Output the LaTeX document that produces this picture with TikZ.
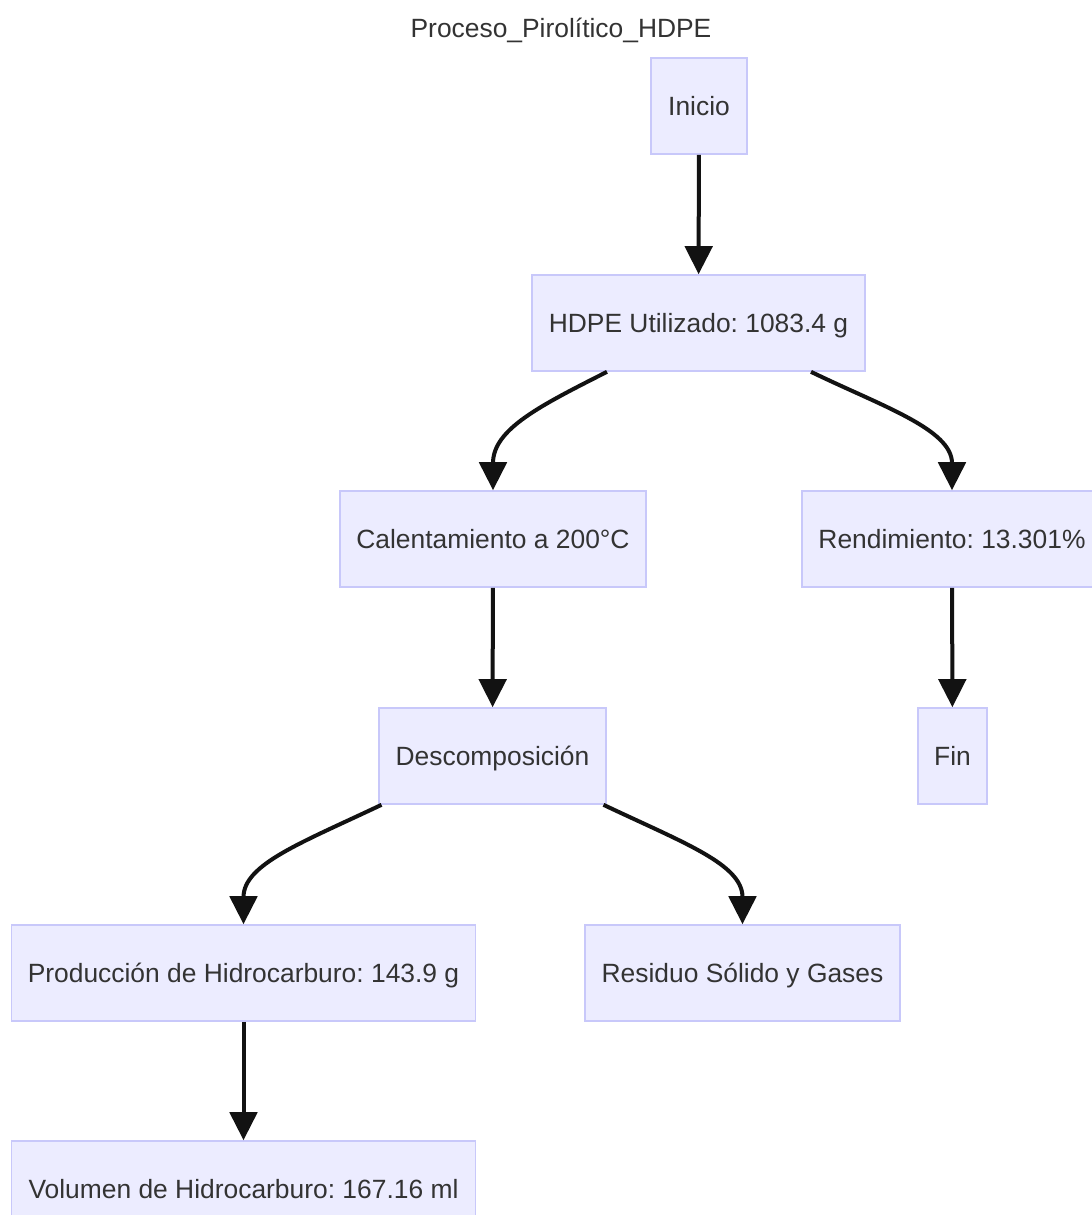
\documentclass[tikz,border=0pt]{standalone}
\usepackage{fontspec}
\setmainfont{Liberation Sans}
\usetikzlibrary{arrows.meta}
\usetikzlibrary{calc}
\usetikzlibrary{positioning}
\definecolor{boxfill}{HTML}{ECECFF}
\definecolor{boxline}{HTML}{C8C8FA}
\definecolor{boxtext}{HTML}{333333}
\newcommand{\px}{0.75pt}
\frenchspacing
\tikzset{
	box/.style={draw=boxline, fill=boxfill, line width=1.2pt, text=boxtext, inner sep=0pt, minimum height=96*\px, text height=14.2pt, text depth=0pt, font=\fontsize{19.8}{24}\selectfont},
	flow/.style={line width=3pt, draw=black!93, -{Triangle[length=21pt,width=20.5pt]}}
}
\begin{document}
\begin{tikzpicture}[x=\px, y=-\px]
		\useasboundingbox (0,0) rectangle (1092,1215);
		\clip (0,0) rectangle (1092,1215);
		\fill[white] (0,0) rectangle (1092,1215);
		\node[text=boxtext, text height=14.2pt, text depth=0pt, font=\fontsize{19.8}{24}\selectfont] (title) at (561,28) {Proceso\_Pirolítico\_HDPE};
		\node[box, minimum width=96*\px] (inicio) at (699,106) {Inicio};
		\node[box, minimum width=333*\px] (hdpe) at (698.5,323) {HDPE Utilizado: 1083.4 g};
		\node[box, minimum width=306*\px] (calentamiento) at (493,539) {Calentamiento a 200°C};
		\node[box, minimum width=300*\px] (rendimiento) at (952,539) {Rendimiento: 13.301\%};
		\node[box, minimum width=227*\px] (descomposicion) at (492.5,756) {Descomposición};
		\node[box, minimum width=69*\px] (fin) at (952.5,756) {Fin};
		\node[box, minimum width=464*\px] (produccion) at (243.5,973) {Producción de Hidrocarburo: 143.9 g};
		\node[box, minimum width=315*\px] (residuo) at (742.5,973) {Residuo Sólido y Gases};
		\node[box, minimum width=464*\px] (volumen) at (243.5,1189) {Volumen de Hidrocarburo: 167.16 ml};
		\draw[flow] (inicio) -- (hdpe);
		\draw[flow] ($(hdpe.south)+(-91.5,0)$) .. controls +(-67,34) and +(0,-61) .. (calentamiento.north);
		\draw[flow] ($(hdpe.south)+(112.5,0)$) .. controls +(70,34) and +(0,-61) .. (rendimiento.north);
		\draw[flow] (calentamiento) -- (descomposicion);
		\draw[flow] (rendimiento) -- (fin);
		\draw[flow] ($(descomposicion.south)+(-111,0)$) .. controls +(-80,38) and +(0,-60) .. (produccion.north);
		\draw[flow] ($(descomposicion.south)+(111,0)$) .. controls +(80,38) and +(0,-60) .. (residuo.north);
		\draw[flow] (produccion) -- (volumen);
\end{tikzpicture}
\end{document}
